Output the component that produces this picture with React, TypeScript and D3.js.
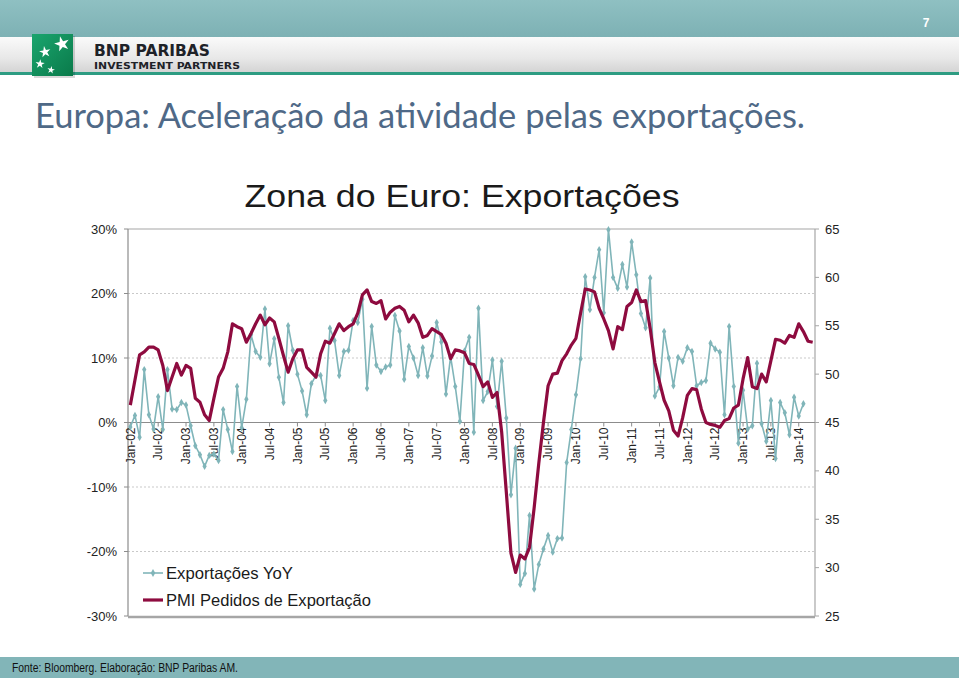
import React from "react";
import * as d3 from "d3";

// ---- Data ----
// Monthly, Jan-02 .. Apr-14 (148 months); exports end Feb-14
const startYear = 2002;
const monthNames = ["Jan","Feb","Mar","Apr","May","Jun","Jul","Aug","Sep","Oct","Nov","Dec"];
const nMonths = 148;

const exportsYoY = [
  -0.7, 1.1, -2.3, 8.2, 1.2, -1.0, 4.0, -1.1, 8.2, 2.1, 2.0, 3.1,
  2.7, -0.5, -3.6, -5.0, -6.8, -5.1, -4.9, -5.9, 2.0, -1.1, -4.5, 5.6,
  -0.8, 3.6, 13.6, 11.0, 10.1, 17.6, 9.1, 13.0, 7.0, 3.1, 15.0, 11.2,
  7.5, 4.9, 1.2, 6.0, 7.3, 7.3, 3.4, 14.6, 12.7, 7.3, 11.0, 11.2,
  15.8, 15.5, 19.1, 5.3, 14.9, 8.9, 7.9, 8.6, 8.9, 16.6, 14.2, 6.7,
  11.8, 10.0, 7.3, 11.6, 7.2, 10.3, 15.5, 12.5, 4.4, 10.2, 5.6, 0.2,
  11.1, 13.2, -1.5, 17.7, 3.4, 4.8, 9.7, 2.5, 9.5, 0.7, -11.2, -4.0,
  -25.1, -23.4, -14.4, -25.8, -22.0, -19.6, -17.5, -20.1, -18.0, -17.9, -6.2, -1.1,
  4.3, 9.9, 22.6, 17.5, 22.5, 26.8, 17.0, 29.9, 22.5, 20.8, 24.5, 21.0,
  28.0, 22.9, 16.9, 14.7, 22.4, 4.1, 5.5, 14.1, 10.0, 5.7, 10.1, 9.5,
  11.6, 11.0, 5.7, 6.2, 6.5, 12.3, 11.4, 10.9, 1.2, 14.9, 5.6, -3.2,
  5.0, -1.0, -0.5, 9.2, -0.2, -2.9, 3.4, -5.6, 3.1, 1.5, -1.9, 3.9,
  1.0, 2.9,
];

const pmiExportOrders = [
  46.8, 49.4, 52.0, 52.3, 52.8, 52.8, 52.5, 50.9, 48.3, 49.7, 51.1, 49.9,
  50.9, 50.6, 47.5, 47.1, 45.8, 45.2, 47.5, 49.7, 50.6, 52.3, 55.2, 54.9,
  54.7, 53.3, 54.2, 55.2, 56.1, 55.1, 55.8, 55.4, 53.7, 51.9, 50.2, 51.6,
  52.5, 52.5, 50.7, 50.2, 49.7, 52.1, 53.4, 53.2, 54.2, 55.2, 54.5, 54.9,
  55.2, 56.3, 58.2, 58.7, 57.5, 57.3, 57.6, 55.7, 56.4, 56.8, 57.0, 56.6,
  55.4, 56.1, 55.3, 53.8, 54.0, 54.7, 54.4, 54.1, 53.2, 51.6, 52.5, 52.4,
  52.2, 51.1, 51.0, 49.9, 48.7, 49.2, 47.6, 48.1, 44.0, 37.8, 31.5, 29.5,
  31.3, 30.9, 32.1, 36.2, 40.8, 45.0, 48.8, 50.0, 50.1, 51.4, 52.1, 53.0,
  53.7, 56.3, 58.8, 58.7, 58.5, 56.8, 55.7, 54.5, 52.6, 54.9, 54.6, 57.0,
  57.4, 58.7, 57.5, 57.6, 54.7, 51.2, 49.2, 47.3, 46.2, 44.2, 43.6, 45.5,
  47.8, 48.5, 48.4, 46.4, 45.0, 44.8, 44.7, 44.5, 45.2, 45.4, 46.5, 46.8,
  49.5, 51.7, 48.7, 48.5, 50.0, 49.2, 51.4, 53.6, 53.5, 53.2, 54.0, 53.8,
  55.2, 54.4, 53.4, 53.3,
];

const tickLabels = [
  "Jan-02","Jul-02","Jan-03","Jul-03","Jan-04","Jul-04","Jan-05","Jul-05",
  "Jan-06","Jul-06","Jan-07","Jul-07","Jan-08","Jul-08","Jan-09","Jul-09",
  "Jan-10","Jul-10","Jan-11","Jul-11","Jan-12","Jul-12","Jan-13","Jul-13","Jan-14",
];
const leftTicks = [30, 20, 10, 0, -10, -20, -30];
const rightTicks = [65, 60, 55, 50, 45, 40, 35, 30, 25];
const gridValues = [20, 10, -10, -20];

const months: string[] = d3.range(nMonths).map((i) => {
  const y = startYear + Math.floor(i / 12);
  return `${monthNames[i % 12]}-${String(y % 100).padStart(2, "0")}`;
});

const W = 959;
const H = 678;
const plot = { left: 128, right: 815, top: 229, bottom: 616 };
const TEAL = "#80b5b9";
const CRIMSON = "#8e0b3f";
const FONT = "Liberation Sans, Arial, sans-serif";

export default function App() {
  const x = d3.scaleBand<string>().domain(months).range([plot.left, plot.right]);
  const cx = (m: string) => (x(m) as number) + x.bandwidth() / 2;
  const yL = d3.scaleLinear().domain([-30, 30]).range([plot.bottom, plot.top]);
  const yR = d3.scaleLinear().domain([25, 65]).range([plot.bottom, plot.top]);

  const expPts = exportsYoY.map((v, i) => [cx(months[i]), yL(v)] as [number, number]);
  const pmiPts = pmiExportOrders.map((v, i) => [cx(months[i]), yR(v)] as [number, number]);
  const line = d3.line<[number, number]>();
  const diamond = d3.symbol().type(d3.symbolDiamond).size(16)() as string;
  const legendDiamond = d3.symbol().type(d3.symbolDiamond).size(18)() as string;
  const star = (s: number) => d3.symbol().type(d3.symbolStar).size(s)() as string;

  return (
    <svg
      width={W}
      height={H}
      viewBox={`0 0 ${W} ${H}`}
      style={{ position: "absolute", left: 0, top: 0, background: "#fff" }}
    >
      <defs>
        <linearGradient id="topband" x1="0" y1="0" x2="0" y2="1">
          <stop offset="0" stopColor="#8fc0c2" />
          <stop offset="1" stopColor="#7db1b4" />
        </linearGradient>
        <linearGradient id="grayband" x1="0" y1="0" x2="0" y2="1">
          <stop offset="0" stopColor="#fafafa" />
          <stop offset="0.6" stopColor="#e8e8e8" />
          <stop offset="1" stopColor="#d4d4d4" />
        </linearGradient>
        <linearGradient id="logo" x1="0" y1="0" x2="1" y2="1">
          <stop offset="0" stopColor="#1aa56e" />
          <stop offset="1" stopColor="#0a7a4a" />
        </linearGradient>
      </defs>

      {/* Header */}
      <rect x={0} y={0} width={W} height={37} fill="url(#topband)" />
      <rect x={0} y={37} width={W} height={35} fill="url(#grayband)" />
      <rect x={0} y={72} width={W} height={3} fill="#2e9c82" />
      <text x={926} y={27} fill="#ffffff" fontFamily={FONT} fontSize={12} fontWeight="bold" textAnchor="middle">7</text>

      {/* Logo */}
      <rect x={34} y={36} width={41} height={42} fill="#000" opacity={0.15} />
      <rect x={32} y={34} width={41} height={42} fill="url(#logo)" />
      <path d={star(70)} transform="translate(62,44) rotate(-15)" fill="#fff" />
      <path d={star(40)} transform="translate(45,52) rotate(-10)" fill="#fff" />
      <path d={star(26)} transform="translate(40,64) rotate(5)" fill="#fff" />
      <path d={star(18)} transform="translate(51,70) rotate(10)" fill="#fff" />
      <text x={94} y={55.5} fontFamily="DejaVu Sans, sans-serif" fontWeight="bold" fontSize={16.5} fill="#1e2228" textLength={116} lengthAdjust="spacingAndGlyphs">BNP PARIBAS</text>
      <text x={94} y={68.5} fontFamily="DejaVu Sans, sans-serif" fontWeight="bold" fontSize={9.5} fill="#1e2228" textLength={146} lengthAdjust="spacingAndGlyphs">INVESTMENT PARTNERS</text>

      {/* Slide title */}
      <text x={35} y={128} fontFamily="Lato, 'Open Sans', sans-serif" fontSize={34} fill="#4f6987" textLength={770} lengthAdjust="spacingAndGlyphs">Europa: Aceleração da atividade pelas exportações.</text>

      {/* Chart title */}
      <text x={462} y={207} fontFamily={FONT} fontSize={31} fill="#1a1a1a" textAnchor="middle" textLength={435} lengthAdjust="spacingAndGlyphs">Zona do Euro: Exportações</text>

      {/* Gridlines */}
      {gridValues.map((g) => (
        <line key={g} x1={plot.left} x2={plot.right} y1={yL(g)} y2={yL(g)} stroke="#c9c9c9" strokeWidth={1} strokeDasharray="2,2" />
      ))}

      {/* Frame */}
      <line x1={plot.left} x2={plot.right} y1={plot.top} y2={plot.top} stroke="#a6a6a6" strokeWidth={1.2} />
      <line x1={plot.left} x2={plot.left} y1={plot.top} y2={plot.bottom} stroke="#8c8c8c" strokeWidth={1.2} />
      <line x1={plot.right} x2={plot.right} y1={plot.top} y2={plot.bottom} stroke="#a6a6a6" strokeWidth={1.2} />
      <line x1={plot.left} x2={plot.right} y1={plot.bottom + 1} y2={plot.bottom + 1} stroke="#a6a6a6" strokeWidth={2.5} />
      <line x1={plot.left} x2={plot.right} y1={yL(0)} y2={yL(0)} stroke="#8c8c8c" strokeWidth={1.2} />

      {/* Left axis */}
      {leftTicks.map((t) => (
        <g key={t}>
          <line x1={plot.left - 4} x2={plot.left} y1={yL(t)} y2={yL(t)} stroke="#8c8c8c" />
          <text x={117} y={yL(t)} dy="0.35em" textAnchor="end" fontFamily={FONT} fontSize={13} fill="#222">{`${t}%`}</text>
        </g>
      ))}

      {/* Right axis */}
      {rightTicks.map((t) => (
        <g key={t}>
          <line x1={plot.right} x2={plot.right + 4} y1={yR(t)} y2={yR(t)} stroke="#a6a6a6" />
          <text x={825} y={yR(t)} dy="0.35em" textAnchor="start" fontFamily={FONT} fontSize={13} fill="#222">{t}</text>
        </g>
      ))}

      {/* X axis ticks + labels */}
      {tickLabels.map((lab) => {
        const xx = cx(lab);
        return (
          <g key={lab}>
            <line x1={xx} x2={xx} y1={yL(0)} y2={yL(0) + 4} stroke="#8c8c8c" />
            <text
              transform={`translate(${xx},${yL(0) + 5}) rotate(-90)`}
              dy="0.35em"
              textAnchor="end"
              fontFamily={FONT}
              fontSize={12}
              fill="#222"
            >
              {lab}
            </text>
          </g>
        );
      })}

      {/* Exports series */}
      <path d={line(expPts) as string} fill="none" stroke={TEAL} strokeWidth={1.6} strokeLinejoin="round" />
      {expPts.map((p, i) => (
        <path key={i} d={diamond} transform={`translate(${p[0]},${p[1]})`} fill={TEAL} />
      ))}

      {/* PMI series */}
      <path d={line(pmiPts) as string} fill="none" stroke={CRIMSON} strokeWidth={3.2} strokeLinejoin="round" />

      {/* Legend */}
      <line x1={143} x2={163} y1={573} y2={573} stroke={TEAL} strokeWidth={1.6} />
      <path d={legendDiamond} transform="translate(153,573)" fill={TEAL} />
      <text x={166} y={573} dy="0.35em" fontFamily={FONT} fontSize={16.5} fill="#1a1a1a" textLength={127} lengthAdjust="spacingAndGlyphs">Exportações YoY</text>
      <line x1={143} x2={163} y1={600} y2={600} stroke={CRIMSON} strokeWidth={3.2} />
      <text x={166} y={600} dy="0.35em" fontFamily={FONT} fontSize={16.5} fill="#1a1a1a" textLength={205} lengthAdjust="spacingAndGlyphs">PMI Pedidos de Exportação</text>

      {/* Footer */}
      <rect x={0} y={657} width={W} height={21} fill="#82b5b8" />
      <text x={12} y={672} fontFamily={FONT} fontSize={12} fill="#111" textLength={226} lengthAdjust="spacingAndGlyphs">Fonte: Bloomberg. Elaboração: BNP Paribas AM.</text>
    </svg>
  );
}
